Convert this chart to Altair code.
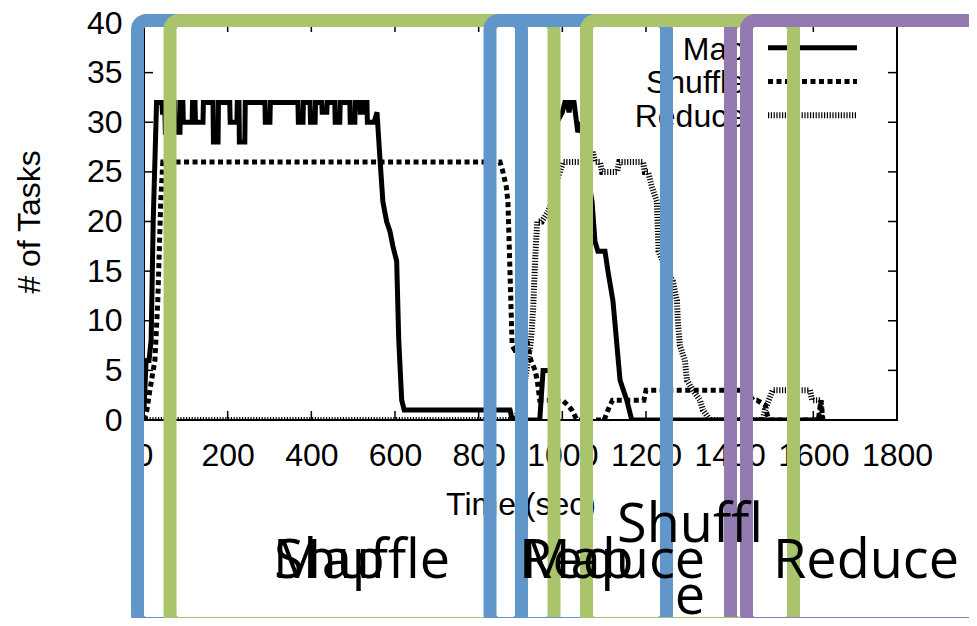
import altair as alt
import pandas as pd

# ---------------- data ----------------
SERIES = ["Map", "Shuffle", "Reduce"]

map_t = [0, 5, 12, 17, 22, 30,
         43, 44, 50, 51, 62, 63,
         74, 75, 86, 87,
         93, 94, 115, 116,
         122, 123, 141, 142,
         165, 166, 177, 178,
         205, 206, 222, 223,
         227, 228, 241, 242,
         289, 290, 301, 302,
         368, 369, 380, 381,
         397, 398, 409, 410,
         425, 426, 437, 438,
         456, 457, 468, 469,
         492, 493, 504, 505,
         516, 517, 523, 524,
         533, 534, 550, 557,
         563, 571, 580, 588, 595, 604, 609, 616, 622,
         875, 880, 946, 954, 975, 982, 987,
         1000, 1006, 1012, 1016, 1020, 1028, 1037, 1045, 1055, 1071,
         1078, 1085, 1102, 1109, 1121, 1138, 1154, 1160, 1166, 1620]
map_v = [1, 6, 6, 8, 20, 32,
         32, 31, 31, 29, 29, 32,
         32, 29, 29, 32,
         32, 30, 30, 32,
         32, 30, 30, 32,
         32, 28, 28, 32,
         32, 30, 30, 32,
         32, 28, 28, 32,
         32, 30, 30, 32,
         32, 30, 30, 32,
         32, 30, 30, 32,
         32, 31, 31, 32,
         32, 30, 30, 32,
         32, 30, 30, 32,
         32, 31, 31, 32,
         32, 30, 30, 31,
         27, 22, 20, 19, 17.5, 16, 8, 2, 1,
         1, 0, 0, 5, 5, 20, 30,
         31, 32, 32, 31, 32, 32, 29, 30, 26, 22,
         18, 17, 17, 15, 12, 4, 2, 1, 0, 0]

shuffle_t = [0, 7, 14, 26, 33, 40, 45,
             846, 851, 858, 866, 870, 880, 887, 900, 903, 915, 920, 925, 935, 940, 946,
             1000, 1013, 1023, 1035,
             1100, 1109, 1120,
             1195, 1200,
             1440, 1456, 1465, 1485, 1490, 1495,
             1612, 1618, 1623]
shuffle_v = [0, 1, 3, 6, 12, 22, 26,
             26, 26, 25, 23.5, 22, 7.5, 7, 7, 8, 8, 7, 6, 5, 4, 2,
             2, 1.5, 1, 0,
             0, 1, 2,
             2, 3,
             3, 2, 2, 1.5, 0.5, 0,
             0, 2, 0]

reduce_t = [0, 890, 894, 903, 911, 918, 925, 930, 936, 940, 951, 966, 975, 985, 994, 1002,
            1066, 1073, 1078, 1090, 1095, 1131, 1136, 1193, 1197, 1205, 1214, 1226, 1230,
            1245, 1264, 1274, 1276, 1281, 1293, 1298, 1312, 1329, 1336, 1353,
            1479, 1484, 1503, 1592, 1597, 1618, 1620]
reduce_v = [0, 0, 1, 2, 4, 6, 8, 11, 17, 20, 20, 21, 22, 24, 25, 26,
            26, 27, 26, 26, 25, 25, 26, 26, 25, 25, 23.5, 22, 17,
            15.5, 14, 12, 10, 7.5, 6, 4, 3, 2, 1, 0,
            0, 1, 3, 3, 2, 2, 0]

X_TICKS = list(range(0, 1801, 200))
Y_TICKS = list(range(0, 41, 5))

# annotation boxes (phase, start/end in seconds, top/bottom in tasks)
box_phase = ["Map", "Shuffle", "Map", "Reduce", "Shuffle", "Reduce"]
box_t0 = [-15.5, 62.2, 827.1, 1402.0, 1057.8, 1440.2]
box_t1 = [902.4, 980.1, 1249.0, 2400.0, 1552.6, 2400.0]
box_top = 40.25
box_bottom = -20.5

label_text = ["Map", "Shuffle", "Map", "Reduce", "Shuffl", "e", "Reduce"]
label_t = [442, 521, 1037, 1119, 1305, 1305, 1726]
label_v = [-15.9, -15.9, -15.9, -15.9, -12.3, -19.5, -15.9]

# ---------------- layout / styles ----------------
W, H = 753, 397
X_MAX, Y_MAX = 1800, 40
T_PER_PX = X_MAX / W
V_PER_PX = Y_MAX / H
FONT = "Liberation Sans"
BOX_COLORS = {"Map": "#6096CA", "Shuffle": "#AAC46C", "Reduce": "#937AB0"}
STYLE = {
    "Map": dict(strokeWidth=5),
    "Shuffle": dict(strokeWidth=5, strokeDash=[5, 3.5]),
    "Reduce": dict(strokeWidth=6, strokeDash=[1.2, 1.6]),
}

xs = alt.Scale(domain=[0, X_MAX], nice=False, zero=False)
ys = alt.Scale(domain=[0, Y_MAX], nice=False, zero=False)
XAXIS = alt.Axis(values=X_TICKS, format="d", title="Time (sec)", ticks=False, domain=False, grid=False,
                 labelOverlap=False, labelFlush=False, labelPadding=20, titlePadding=18)
YAXIS = alt.Axis(values=Y_TICKS, format="d", title="# of Tasks", ticks=False, domain=False, grid=False,
                 labelOverlap=False, labelFlush=False, labelPadding=22, titlePadding=40)


def X(field):
    return alt.X(field, type="quantitative", scale=xs, axis=XAXIS)


def Y(field):
    return alt.Y(field, type="quantitative", scale=ys, axis=YAXIS)


data = {
    "Map": (map_t, map_v),
    "Shuffle": (shuffle_t, shuffle_v),
    "Reduce": (reduce_t, reduce_v),
}

layers = []

# plot lines
for s in SERIES:
    t, v = data[s]
    df = pd.DataFrame({"t": t, "v": v})
    layers.append(alt.Chart(df).mark_line(color="black", clip=True, **STYLE[s]).encode(
        x=X("t"), y=Y("v")))

# inward ticks (gnuplot style) on all four sides
tl_t = 9 * T_PER_PX
tl_v = 9 * V_PER_PX
yt = pd.DataFrame({"v": Y_TICKS})
xt = pd.DataFrame({"t": X_TICKS})
for a, b in [(0, tl_t), (X_MAX - tl_t, X_MAX)]:
    d = yt.assign(a=a, b=b)
    layers.append(alt.Chart(d).mark_rule(color="black", strokeWidth=1.5).encode(
        x=X("a"), x2="b:Q", y=Y("v")))
for a, b in [(0, tl_v), (Y_MAX - tl_v, Y_MAX)]:
    d = xt.assign(a=a, b=b)
    layers.append(alt.Chart(d).mark_rule(color="black", strokeWidth=1.5).encode(
        y=Y("a"), y2="b:Q", x=X("t")))

# key (inside, top right)
key_x0 = (768 - 144) * T_PER_PX
key_x1 = (857 - 144) * T_PER_PX
key_tx = (745 - 144) * T_PER_PX
for i, s in enumerate(SERIES):
    lv = 37.5 - 3.4 * i
    d = pd.DataFrame({"name": [s], "a": [key_x0], "b": [key_x1], "v": [lv],
                      "tx": [key_tx], "tv": [lv - 1.18]})
    layers.append(alt.Chart(d).mark_rule(color="black", **STYLE[s]).encode(
        x=X("a"), x2="b:Q", y=Y("v")))
    layers.append(alt.Chart(d).mark_text(font=FONT, fontSize=32, align="right",
                                         baseline="alphabetic", color="black").encode(
        x=X("tx"), y=Y("tv"), text="name:N"))

# annotation boxes
bdf = pd.DataFrame({"phase": box_phase, "t0": box_t0, "t1": box_t1,
                    "top": box_top, "bot": box_bottom, "order": range(len(box_phase))})
layers.append(alt.Chart(bdf).mark_rect(fillOpacity=0, strokeWidth=13, cornerRadius=9, clip=False).encode(
    x=X("t0"), x2="t1:Q", y=Y("top"), y2="bot:Q",
    stroke=alt.Stroke("phase:N", scale=alt.Scale(domain=list(BOX_COLORS),
                                                  range=list(BOX_COLORS.values())), legend=None),
    order="order:Q"))

ldf = pd.DataFrame({"text": label_text, "t": label_t, "v": label_v})
layers.append(alt.Chart(ldf).mark_text(font="Open Sans", fontSize=54, align="center",
                                       baseline="alphabetic", color="black", clip=False).encode(
    x=X("t"), y=Y("v"), text="text:N"))

chart = alt.layer(*layers).properties(
    width=W, height=H,
    autosize=alt.AutoSizeParams(type="none"),
    padding={"left": 136, "top": 15, "right": 72, "bottom": 198},
    background="white",
).configure_view(stroke="black", strokeWidth=2).configure_axis(
    labelFont=FONT, labelFontSize=32, labelColor="black",
    titleFont=FONT, titleFontSize=32, titleColor="black", titleFontWeight="normal",
)

chart.save("out.html", embed_options={"renderer": "svg", "actions": False})
